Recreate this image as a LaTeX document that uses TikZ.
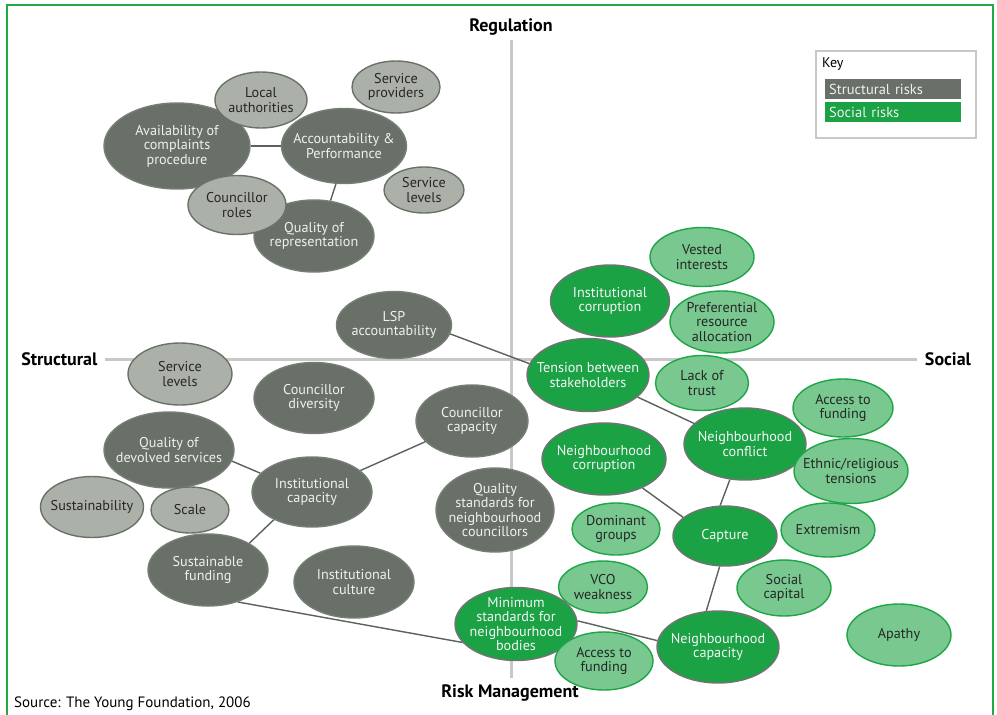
\documentclass[tikz,border=0pt]{standalone}
\usepackage{fontspec}
\setmainfont{PT Sans}
\usetikzlibrary{shapes.geometric}
\definecolor{sdark}{HTML}{687068}
\definecolor{slight}{HTML}{ABB1A9}
\definecolor{sedge}{HTML}{6A7268}
\definecolor{gdark}{HTML}{1AA245}
\definecolor{glight}{HTML}{78C890}
\definecolor{gedge}{HTML}{1FA548}
\definecolor{axisgray}{HTML}{C8C8C8}
\definecolor{linegray}{HTML}{5A625A}
\definecolor{framegreen}{HTML}{22AA44}
\tikzset{
  x=1pt, y=-1pt,
  sz/.style 2 args={minimum width=#1pt, minimum height=#2pt},
  bub/.style={ellipse, inner xsep=-30pt, inner ysep=-20pt, align=center, line width=1.4pt,
    font=\fontsize{14.2}{14.6}\selectfont},
  sd/.style={bub, fill=sdark, draw=sdark!90!white, text=white!94!black},
  sl/.style={bub, fill=slight, draw=sedge, text=black!85},
  gd/.style={bub, fill=gdark, draw=black!55, text=white!96!black},
  gl/.style={bub, fill=glight, draw=gedge, text=black!85},
  conn/.style={draw=linegray, line width=1.4pt},
  axislbl/.style={font=\fontsize{18}{20}\selectfont\bfseries, text=black},
  keybox/.style={fill=#1, minimum width=136pt, minimum height=20pt, inner sep=0pt,
    anchor=north west, text=white!94!black, font=\fontsize{14.5}{16}\selectfont}
}
\begin{document}
\begin{tikzpicture}
\useasboundingbox (0,0) rectangle (997,715);
\fill[white] (0,0) rectangle (997,715);
% frame
\draw[framegreen, line width=2pt] (7,720) -- (7,5) -- (993,5) -- (993,720);
% axes
\coordinate (vtop) at (511,40);
\coordinate (vbot) at (511,678);
\coordinate (hl) at (105,359);
\coordinate (hr) at (917,359);
\draw[axisgray, line width=3pt] (vtop) -- (vbot);
\draw[axisgray, line width=3pt] (hl) -- (hr);
\node[axislbl] (reg) at (511,27) {Regulation};
\node[axislbl, anchor=east] (str) at (101,359) {Structural};
\node[axislbl] (soc) at (948,359) {Social};
\node[axislbl] (risk) at (510,693) {Risk Management};
\node[anchor=west, font=\fontsize{15}{16}\selectfont, inner sep=0pt] (src) at (14,704) {Source: The Young Foundation, 2006};

% key
\node[draw=axisgray, line width=2pt, minimum width=160pt, minimum height=87pt, anchor=north west, inner sep=0pt] (keyframe) at (815,50) {};
\node[anchor=west, inner sep=0pt, font=\fontsize{14}{15}\selectfont] (keylbl) at (822,64) {Key};
\node[keybox=sdark, text width=128pt, align=left] (k1) at (825,79) {Structural risks};
\node[keybox=gdark, text width=128pt, align=left] (k2) at (825,102) {Social risks};

% ---- structural dark nodes
\node[sd, sz={146}{86}] (avail) at (177,146) {Availability of\\complaints\\procedure};
\node[sd, sz={125}{75}] (acc) at (344,146) {Accountability \&\\Performance};
\node[sd, sz={120}{72}] (qrep) at (314,236) {Quality of\\representation};
\node[sd, sz={115}{67}] (lsp) at (394,325) {LSP\\accountability};
\node[sd, sz={120}{71}] (cdiv) at (314,398) {Councillor\\diversity};
\node[sd, sz={112}{72}] (ccap) at (472,421) {Councillor\\capacity};
\node[sd, sz={130}{76}] (qdev) at (169,450) {Quality of\\devolved services};
\node[sd, sz={120}{70}] (icap) at (312,492) {Institutional\\capacity};
\node[sd, sz={118}{84}] (qstd) at (495,510) {Quality\\standards for\\neighbourhood\\councillors};
\node[sd, sz={120}{72}] (sfund) at (208,570) {Sustainable\\funding};
\node[sd, sz={120}{72}] (icult) at (354,582) {Institutional\\culture};

% ---- structural light nodes
\node[sl, sz={92}{56}] (local) at (261,100) {Local\\authorities};
\node[sl, sz={88}{52}] (sprov) at (396,87) {Service\\providers};
\node[sl, sz={80}{46}] (slev1) at (424,190) {Service\\levels};
\node[sl, sz={98}{59}] (croles) at (237,205) {Councillor\\roles};
\node[sl, sz={104}{62}] (slev2) at (180,374) {Service\\levels};
\node[sl, sz={103}{61}] (sust) at (92,507) {Sustainability};
\node[sl, sz={78}{46}] (scale) at (190,510) {Scale};

% ---- social dark nodes
\node[gd, sz={119}{72}] (icorr) at (610,301) {Institutional\\corruption};
\node[gd, sz={122}{73}] (tens) at (588,375) {Tension between\\stakeholders};
\node[gd, sz={122}{72}] (nconf) at (745,444) {Neighbourhood\\conflict};
\node[gd, sz={124}{72}] (ncorr) at (604,459) {Neighbourhood\\corruption};
\node[gd, sz={104}{60}] (capt) at (725,536) {Capture};
\node[gd, sz={122}{73}] (mstd) at (516,624) {Minimum\\standards for\\neighbourhood\\bodies};
\node[gd, sz={122}{72}] (ncap) at (718,647) {Neighbourhood\\capacity};

% ---- social light nodes
\node[gl, sz={104}{59}] (vest) at (702,257) {Vested\\interests};
\node[gl, sz={104}{62}] (pref) at (722,322) {Preferential\\resource\\allocation};
\node[gl, sz={93}{55}] (trust) at (702,383) {Lack of\\trust};
\node[gl, sz={100}{58}] (afund1) at (843,408) {Access to\\funding};
\node[gl, sz={114}{65}] (ethn) at (851,471) {Ethnic/religious\\tensions};
\node[gl, sz={88}{52}] (dom) at (616,529) {Dominant\\groups};
\node[gl, sz={94}{54}] (extr) at (828,530) {Extremism};
\node[gl, sz={89}{52}] (vco) at (603,587) {VCO\\weakness};
\node[gl, sz={94}{56}] (scap) at (784,588) {Social\\capital};
\node[gl, sz={104}{62}] (apathy) at (899,635) {Apathy};
\node[gl, sz={98}{58}] (afund2) at (604,661) {Access to\\funding};

% ---- connectors
\draw[conn] (avail.0) -- (acc.180);
\draw[conn] (acc.258) -- (qrep.65);
\draw[conn] (lsp.-9) -- (tens.169);
\draw[conn] (qdev.-10) -- (icap.160);
\draw[conn] (icap) -- (ccap);
\draw[conn] (icap.216) -- (sfund.33);
\draw[conn] (sfund.-47) -- (mstd.199);
\draw[conn] (tens.-24) -- (nconf.158);
\draw[conn] (nconf.247) -- (capt.99);
\draw[conn] (ncorr.-37) -- (capt.156);
\draw[conn] (capt.260) -- (ncap.108);
\draw[conn] (mstd.3) -- (ncap.174);
\end{tikzpicture}
\end{document}
